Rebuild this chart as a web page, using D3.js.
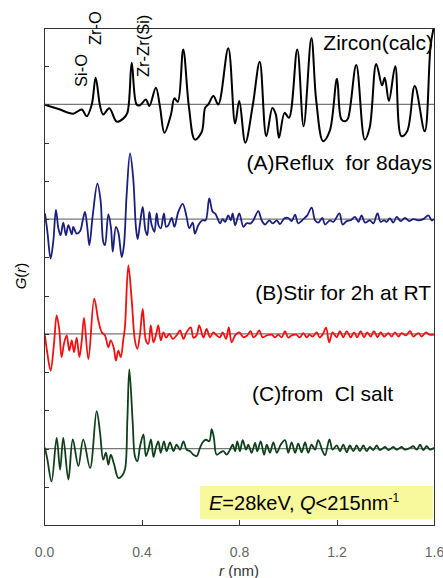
<!DOCTYPE html>
<html>
<head>
<meta charset="utf-8">
<title>G(r) zircon</title>
<script src="https://cdn.jsdelivr.net/npm/d3@7"></script>
<style>
	body { margin: 0; background: #fff; }
	.axis path, .axis line { fill: none; stroke: #333; shape-rendering: crispEdges; }
	.axis text { font-family: "Liberation Sans", Arial, sans-serif; font-size: 14px; fill: #666; }
	.label { font-family: "Liberation Sans", Arial, sans-serif; font-size: 21px; fill: #000; white-space: pre; }
	.peak { font-family: "Liberation Sans", Arial, sans-serif; font-size: 16.5px; fill: #000; }
</style>
</head>
<body>
<script>
// tick values
var rTicks = [0.0, 0.4, 0.8, 1.2, 1.6];
var gTicks = d3.range(0, 14);

// series names and vertical offsets (in tick units)
var seriesNames = ["Zircon(calc)", "(A)Reflux  for 8days", "(B)Stir for 2h at RT", "(C)from  Cl salt"];
var offsets = [11, 8, 5, 2];
var peakNames = ["Si-O", "Zr-O", "Zr-Zr(Si)"];

// [r (nm), G]
var zirconCalc = [[0.0,0],[0.06,-0.12],[0.12,-0.24],[0.155,-0.13],[0.175,-0.31],[0.196,0.0],[0.212,0.70],[0.23,-0.04],[0.243,-0.26],[0.268,-0.10],[0.298,-0.45],[0.325,-0.37],[0.342,-0.22],[0.36,1.09],[0.38,0],[0.394,-0.02],[0.418,0.13],[0.432,-0.04],[0.459,0.44],[0.476,-0.07],[0.494,-0.74],[0.521,-0.26],[0.535,0.16],[0.549,0.07],[0.571,1.44],[0.595,-0.09],[0.619,-0.92],[0.647,-0.72],[0.661,-0.09],[0.674,0],[0.695,0.22],[0.715,0],[0.756,1.47],[0.784,-0.5],[0.801,0.09],[0.826,-1.0],[0.857,0],[0.885,1.12],[0.912,-0.83],[0.937,-0.09],[0.951,-0.26],[0.964,-0.87],[0.987,-0.22],[1.005,-0.35],[1.039,1.44],[1.065,-0.57],[1.097,1.74],[1.117,0.09],[1.145,-0.96],[1.172,-0.70],[1.202,0.67],[1.22,-0.39],[1.236,-0.44],[1.247,-0.37],[1.281,1.03],[1.316,-0.92],[1.336,-0.61],[1.363,1.06],[1.387,0.5],[1.398,0.70],[1.415,0.09],[1.441,1.0],[1.466,-0.83],[1.49,-0.7],[1.521,0.48],[1.562,-0.7],[1.586,1.53],[1.6,2.05]];

var reflux8days = [[0.004,0.15],[0.014,-0.33],[0.027,-1.03],[0.038,-0.59],[0.049,0.24],[0.059,-0.24],[0.068,-0.42],[0.079,-0.09],[0.09,-0.42],[0.1,-0.16],[0.114,-0.40],[0.12,-0.20],[0.134,-0.38],[0.148,-0.31],[0.159,-0.03],[0.168,0.19],[0.178,-0.24],[0.186,-0.68],[0.2,0.10],[0.219,0.93],[0.232,0.50],[0.243,-0.59],[0.25,-0.68],[0.264,0.13],[0.275,-0.24],[0.282,-0.85],[0.295,-0.20],[0.305,-0.35],[0.319,-0.99],[0.328,-0.68],[0.339,0.63],[0.353,1.72],[0.366,1.07],[0.377,-0.20],[0.384,-0.52],[0.394,-0.11],[0.405,0.32],[0.416,-0.29],[0.424,-0.42],[0.432,0.19],[0.442,-0.16],[0.453,-0.33],[0.462,0.15],[0.47,-0.16],[0.479,-0.24],[0.492,0.15],[0.501,-0.20],[0.51,-0.16],[0.524,0.03],[0.535,-0.20],[0.551,0.19],[0.569,0.40],[0.585,0.06],[0.596,-0.24],[0.61,-0.09],[0.619,-0.38],[0.633,-0.16],[0.65,-0.03],[0.663,-0.03],[0.678,0.54],[0.692,0.19],[0.702,0.15],[0.712,0.02],[0.722,-0.11],[0.733,0],[0.743,-0.07],[0.756,0.10],[0.766,-0.03],[0.774,0.15],[0.784,-0.16],[0.801,0.15],[0.818,-0.20],[0.831,-0.11],[0.848,-0.11],[0.859,-0.03],[0.879,0.21],[0.893,-0.03],[0.907,-0.14],[0.924,-0.03],[0.938,-0.11],[0.955,-0.03],[0.968,-0.13],[0.986,0.02],[1.002,0.03],[1.016,-0.05],[1.03,0.12],[1.043,-0.11],[1.064,0],[1.08,0.10],[1.098,0.30],[1.112,-0.03],[1.125,-0.09],[1.142,0.03],[1.153,-0.14],[1.173,-0.03],[1.187,-0.07],[1.212,0.15],[1.225,-0.14],[1.242,-0.05],[1.258,-0.03],[1.276,0.06],[1.29,-0.07],[1.303,0.10],[1.317,-0.09],[1.337,-0.03],[1.351,-0.11],[1.368,0.15],[1.381,-0.07],[1.395,-0.03],[1.406,-0.07],[1.419,0.02],[1.433,-0.09],[1.447,0.06],[1.463,-0.05],[1.481,0.03],[1.499,-0.05],[1.515,0],[1.536,-0.03],[1.556,0],[1.577,0.10],[1.59,-0.03],[1.6,0]];

var stir2h = [[0.004,-0.04],[0.014,-0.52],[0.027,-0.96],[0.041,-0.26],[0.052,0.48],[0.063,0.09],[0.072,-0.61],[0.082,-0.26],[0.093,-0.04],[0.104,-0.44],[0.114,-0.17],[0.123,-0.48],[0.134,-0.10],[0.145,-0.61],[0.155,-0.17],[0.164,0.42],[0.182,-0.66],[0.206,0.92],[0.223,0.35],[0.237,0.04],[0.25,-0.04],[0.264,-0.35],[0.274,-0.17],[0.287,-0.39],[0.295,-0.70],[0.305,-0.44],[0.315,-0.61],[0.325,-0.17],[0.332,0.17],[0.346,1.79],[0.36,0.87],[0.373,-0.17],[0.383,-0.39],[0.394,0],[0.405,0.65],[0.418,-0.17],[0.428,-0.26],[0.438,0.22],[0.449,-0.22],[0.459,-0.04],[0.469,0.22],[0.479,-0.17],[0.49,0.04],[0.501,-0.10],[0.514,0],[0.528,-0.13],[0.544,-0.04],[0.558,0.09],[0.572,-0.13],[0.585,0.04],[0.602,0.17],[0.613,-0.10],[0.626,-0.04],[0.637,0.22],[0.654,-0.10],[0.667,0.13],[0.681,-0.09],[0.695,0.04],[0.708,-0.04],[0.722,-0.09],[0.733,0.04],[0.747,-0.13],[0.758,0.17],[0.77,-0.22],[0.784,-0.04],[0.801,0.04],[0.818,-0.09],[0.834,-0.04],[0.848,0.07],[0.859,-0.09],[0.87,-0.04],[0.883,0.09],[0.897,-0.09],[0.914,-0.04],[0.934,-0.02],[0.948,-0.09],[0.961,-0.02],[0.975,-0.09],[0.989,0.07],[1.002,-0.10],[1.016,-0.04],[1.034,-0.02],[1.05,-0.09],[1.064,0.02],[1.078,-0.09],[1.089,-0.02],[1.102,-0.07],[1.119,0.04],[1.13,-0.09],[1.143,-0.02],[1.157,0.16],[1.17,-0.22],[1.184,0.04],[1.201,-0.09],[1.214,0.07],[1.228,-0.09],[1.242,0.07],[1.258,-0.09],[1.272,0.04],[1.285,-0.09],[1.299,0.07],[1.313,-0.09],[1.326,0.04],[1.34,-0.07],[1.354,0.07],[1.368,-0.09],[1.381,0.04],[1.395,-0.07],[1.413,0.02],[1.426,-0.07],[1.44,0.04],[1.454,-0.07],[1.467,0.02],[1.485,-0.04],[1.502,0.07],[1.515,-0.07],[1.536,0.02],[1.549,-0.07],[1.567,0.04],[1.581,-0.02],[1.6,-0.02]];

var clSalt = [[0.004,0.02],[0.014,-0.29],[0.031,-0.86],[0.052,0.28],[0.066,-0.55],[0.079,0.28],[0.1,-0.81],[0.118,0.24],[0.141,-0.46],[0.161,0.24],[0.189,-0.51],[0.216,0.98],[0.23,0.41],[0.243,-0.29],[0.254,-0.11],[0.264,-0.42],[0.274,-0.16],[0.287,-0.40],[0.305,-0.77],[0.319,-0.72],[0.332,-0.55],[0.342,0.76],[0.35,2.07],[0.364,0.67],[0.373,-0.20],[0.383,-0.33],[0.394,0.06],[0.408,0.37],[0.418,-0.20],[0.428,-0.03],[0.439,0.24],[0.449,-0.22],[0.459,0.02],[0.469,0.19],[0.479,-0.11],[0.492,0.19],[0.503,-0.07],[0.517,0.16],[0.531,-0.07],[0.544,0.10],[0.558,-0.03],[0.572,0.19],[0.585,-0.03],[0.599,-0.07],[0.613,-0.16],[0.626,-0.20],[0.64,0.02],[0.654,0.19],[0.665,0.23],[0.678,0.19],[0.688,0.51],[0.697,0.28],[0.708,-0.16],[0.722,-0.11],[0.736,-0.07],[0.749,-0.16],[0.763,-0.03],[0.774,0.10],[0.784,-0.07],[0.793,0.19],[0.804,-0.07],[0.815,0.22],[0.829,-0.03],[0.838,0.10],[0.852,-0.11],[0.866,0.15],[0.875,-0.07],[0.889,0.19],[0.903,-0.16],[0.914,0.10],[0.927,-0.11],[0.941,0.16],[0.955,-0.11],[0.971,0.10],[0.989,0.22],[1.002,-0.11],[1.016,0.16],[1.03,-0.11],[1.043,0.13],[1.057,-0.10],[1.071,0.16],[1.084,-0.11],[1.098,0.10],[1.112,-0.03],[1.125,0.22],[1.143,-0.07],[1.153,-0.18],[1.171,0.24],[1.184,-0.03],[1.201,0.08],[1.214,-0.07],[1.228,0.10],[1.242,-0.10],[1.255,0.08],[1.269,-0.07],[1.283,0.08],[1.296,-0.07],[1.31,0.08],[1.324,-0.07],[1.337,0.04],[1.351,-0.04],[1.365,0.08],[1.378,-0.04],[1.399,0.04],[1.413,-0.04],[1.433,0.04],[1.447,-0.03],[1.467,0.04],[1.481,-0.03],[1.502,0.02],[1.515,0.06],[1.529,-0.03],[1.543,0.10],[1.556,-0.04],[1.57,0.06],[1.584,-0.03],[1.6,0.02]];

var allSeries = [zirconCalc, reflux8days, stir2h, clSalt];
var colors = ["#000000", "#1a1f7e", "#f01010", "#10401a"];

var width = 443, height = 578;
var padLeft = 44, padRight = 434, padTop = 28, padBottom = 525;

var svg = d3.select("body").append("svg")
	.attr("width", width)
	.attr("height", height);

var xScale = d3.scaleLinear().domain([0, 1.6]).range([padLeft, padRight]);
var yScale = d3.scaleLinear().domain([0, 13]).range([padBottom, padTop]);

svg.append("clipPath").attr("id", "plot")
	.append("rect")
	.attr("x", padLeft).attr("y", padTop)
	.attr("width", padRight - padLeft).attr("height", padBottom - padTop);

// zero lines for each curve
svg.selectAll(".zero")
	.data(offsets)
	.enter()
	.append("line")
	.attr("class", "zero")
	.attr("x1", padLeft).attr("x2", padRight)
	.attr("y1", function (d) { return yScale(d); })
	.attr("y2", function (d) { return yScale(d); })
	.attr("stroke", "#777")
	.attr("stroke-width", 1.3);

allSeries.forEach(function (data, i) {
	var line = d3.line()
		.x(function (d) { return xScale(d[0]); })
		.y(function (d) { return yScale(d[1] + offsets[i]); })
		.curve(d3.curveCatmullRom.alpha(0.5));
	svg.append("path")
		.datum(data)
		.attr("clip-path", "url(#plot)")
		.attr("d", line)
		.attr("fill", "none")
		.attr("stroke", colors[i])
		.attr("stroke-width", i == 0 ? 2 : 1.8)
		.attr("stroke-linejoin", "round");
});

// frame
svg.append("rect")
	.attr("x", padLeft).attr("y", padTop)
	.attr("width", padRight - padLeft).attr("height", padBottom - padTop)
	.attr("fill", "none")
	.attr("stroke", "#333")
	.attr("stroke-width", 1)
	.attr("shape-rendering", "crispEdges");

var xAxis = d3.axisBottom(xScale)
	.tickValues(rTicks)
	.tickFormat(d3.format(".1f"))
	.tickSizeInner(-5)
	.tickSizeOuter(0)
	.tickPadding(22);

svg.append("g")
	.attr("class", "axis")
	.attr("transform", "translate(0," + padBottom + ")")
	.call(xAxis)
	.select(".domain").remove();

var yAxis = d3.axisLeft(yScale)
	.tickValues(gTicks)
	.tickFormat("")
	.tickSizeInner(-5)
	.tickSizeOuter(0);

svg.append("g")
	.attr("class", "axis")
	.attr("transform", "translate(" + padLeft + ",0)")
	.call(yAxis)
	.select(".domain").remove();

// series labels
var labelPos = [[433, 50, "end"], [432, 170, "end"], [431, 300, "end"], [252, 401, "start"]];
svg.selectAll(".label")
	.data(seriesNames)
	.enter()
	.append("text")
	.attr("class", "label")
	.attr("x", function (d, i) { return labelPos[i][0]; })
	.attr("y", function (d, i) { return labelPos[i][1]; })
	.attr("text-anchor", function (d, i) { return labelPos[i][2]; })
	.text(function (d) { return d; });

// peak labels (rotated)
var peakPos = [[87, 87], [101, 45], [149, 77]];
svg.selectAll(".peak")
	.data(peakNames)
	.enter()
	.append("text")
	.attr("class", "peak")
	.attr("transform", function (d, i) { return "translate(" + peakPos[i][0] + "," + peakPos[i][1] + ") rotate(-90)"; })
	.text(function (d) { return d; });

// y label
var gl = svg.append("text")
	.attr("transform", "translate(26,276) rotate(-90)")
	.attr("text-anchor", "middle")
	.attr("font-family", "Liberation Sans, Arial, sans-serif")
	.attr("font-size", "15px");
gl.append("tspan").attr("font-style", "italic").text("G");
gl.append("tspan").text("(");
gl.append("tspan").attr("font-style", "italic").text("r");
gl.append("tspan").text(")");

// x label
var xl = svg.append("text")
	.attr("x", xScale(0.8))
	.attr("y", 576)
	.attr("text-anchor", "middle")
	.attr("font-family", "Liberation Sans, Arial, sans-serif")
	.attr("font-size", "15px")
	.attr("fill", "#333");
xl.append("tspan").attr("font-style", "italic").text("r");
xl.append("tspan").text(" (nm)");

// condition box
svg.append("rect")
	.attr("x", 200).attr("y", 486)
	.attr("width", 233).attr("height", 33)
	.attr("fill", "#f8f89c");

var cond = svg.append("text")
	.attr("x", 209).attr("y", 510)
	.attr("font-family", "Liberation Sans, Arial, sans-serif")
	.attr("font-size", "20px");
cond.append("tspan").attr("font-style", "italic").text("E");
cond.append("tspan").text("=28keV, ");
cond.append("tspan").attr("font-style", "italic").text("Q");
cond.append("tspan").text("<215nm");
cond.append("tspan").attr("font-size", "12px").attr("dy", -8).text("-1");
</script>
</body>
</html>
